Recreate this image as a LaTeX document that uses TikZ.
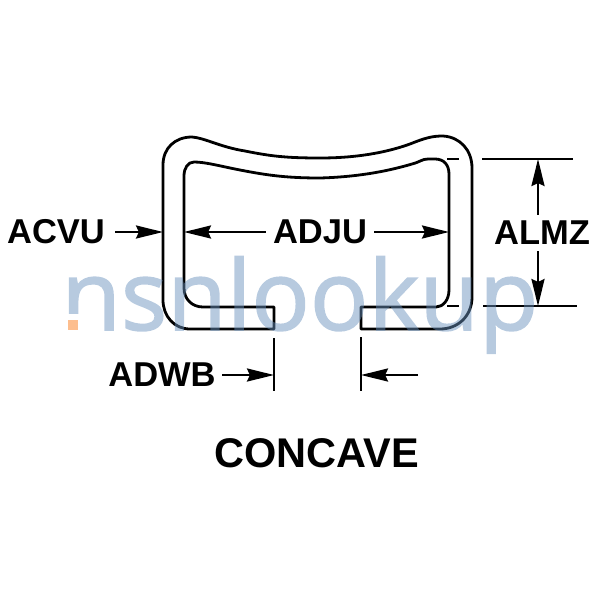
\documentclass[tikz,border=0pt]{standalone}
\usepackage{fontspec}
\setmainfont{Liberation Sans}
\newfontfamily\markfont[FakeBold=1.6]{Open Sans}
\usetikzlibrary{arrows.meta}

\definecolor{markblue}{RGB}{105,145,189}
\definecolor{markdot}{RGB}{253,190,142}

\begin{document}
\begin{tikzpicture}[x=1pt,y=-1pt,line width=2.8pt,
    dimlabel/.style={font=\fontsize{34.5}{35}\selectfont\bfseries, inner sep=0pt},
    titlelabel/.style={font=\fontsize{41.5}{42}\selectfont\bfseries, inner sep=0pt},
    wmark/.style={font=\fontsize{97}{97}\selectfont\markfont, inner sep=0pt, anchor=base west,
      text=markblue},
    >={Stealth[length=27pt,width=13pt,inset=3pt]}]

  \useasboundingbox (0,0) rectangle (600,600);

  % profile
  \draw[line join=round] (163,165) .. controls (163,148) and (175,137) .. (192,137)
    .. controls (205,138) and (220,147) .. (245,151)
    .. controls (270,156) and (285,158) .. (320,158)
    .. controls (355,158) and (385,153) .. (410,144)
    .. controls (425,138) and (432,136) .. (443,136)
    .. controls (460,137) and (472,150) .. (472,168)
    -- (472,297) .. controls (472,316) and (458,329) .. (440,329)
    -- (361,329) -- (361,307) -- (436,307)
    .. controls (443,307) and (449,300) .. (449,290)
    -- (449,174) .. controls (449,165) and (444,159) .. (435,159)
    -- (428,159) .. controls (422,159) and (420,162) .. (412,164)
    .. controls (385,172) and (355,177) .. (320,178)
    .. controls (285,178) and (265,175) .. (235,169)
    .. controls (220,166) and (205,162) .. (194,162)
    .. controls (188,162) and (184,168) .. (184,176)
    -- (184,288) .. controls (184,299) and (192,307) .. (203,307)
    -- (274,307) -- (274,329) -- (190,329)
    .. controls (174,329) and (163,316) .. (163,300) -- cycle;

  % labels
  \node[dimlabel] (ACVU) at (56,232) {ACVU};
  \node[dimlabel] (ADJU) at (320,232) {ADJU};
  \node[dimlabel] (ALMZ) at (542,233) {ALMZ};
  \node[dimlabel] (ADWB) at (162,375) {ADWB};
  \node[titlelabel] (CONCAVE) at (316.5,453) {CONCAVE};

  \coordinate (outerL) at (163,232);
  \coordinate (innerL) at (184,232);
  \coordinate (innerR) at (449,232);
  \coordinate (topL) at (482,159);
  \coordinate (topR) at (573,159);
  \coordinate (botL) at (483,306);
  \coordinate (botR) at (577,306);
  \coordinate (topA) at (538,159);
  \coordinate (botA) at (538,306);
  \coordinate (gapLt) at (274,338);
  \coordinate (gapLb) at (274,391);
  \coordinate (gapRt) at (361,337);
  \coordinate (gapRb) at (361,391);
  \coordinate (gapLm) at (274,375);
  \coordinate (gapRm) at (361,375);
  \coordinate (gapRe) at (418,375);

  % dimensions
  \draw[->] (ACVU.east) ++(9,0) -- (outerL);
  \draw[->] (ADJU.west) ++(-6,0) -- (innerL);
  \draw[->] (ADJU.east) ++(6,0) -- (innerR);
  \draw[->] (ALMZ.north -| topA) ++(0,-5) -- (topA);
  \draw[->] (ALMZ.south -| botA) ++(0,5) -- (botA);
  \draw[->] (ADWB.east) ++(5,0) -- (gapLm);
  \draw[->] (gapRe) -- (gapRm);

  \draw (topL) -- (topR);
  \draw (botL) -- (botR);
  \draw (447,159) -- (459,159);
  \draw (447,306) -- (459,306);
  \draw (gapLt) -- (gapLb);
  \draw (gapRt) -- (gapRb);

  % watermark
  \begin{scope}[transparency group,opacity=0.48]
    \node[wmark] (mark) at (60,330) {nsnlookup};
  \end{scope}
  \fill[white] (64,314) rectangle (82,334);
  \fill[markdot] (68,320) rectangle (78,330);

\end{tikzpicture}
\end{document}
